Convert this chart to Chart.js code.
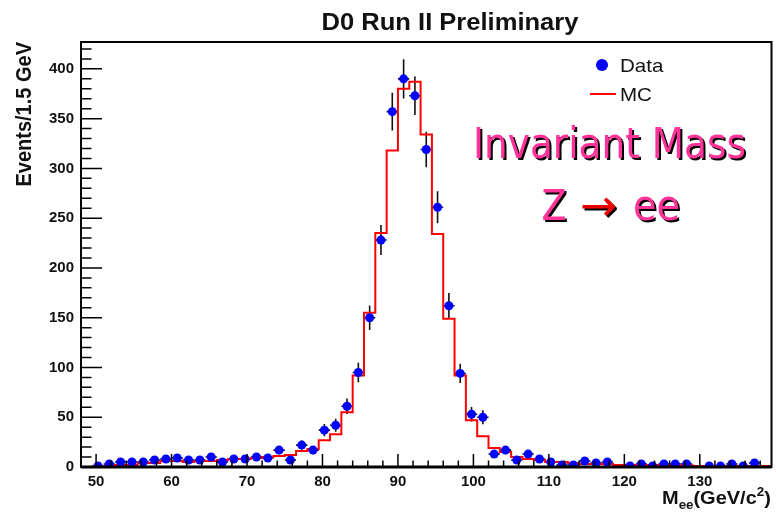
<!DOCTYPE html>
<html lang="en">
<head>
  <meta charset="UTF-8" />
  <title>D0 Run II Preliminary - Z to ee</title>
  <script src="https://cdn.jsdelivr.net/npm/chart.js"></script>
  <style>
    body { margin: 0; background: #fff; }
    canvas { display: block; }
  </style>
</head>
<body>
<canvas id="massChart" width="776" height="513"></canvas>
<script>
  // bin centres (GeV/c^2), 1.5 GeV bins from 48 to 139.5
  const massBins = [48.75, 50.25, 51.75, 53.25, 54.75, 56.25, 57.75, 59.25, 60.75, 62.25,
    63.75, 65.25, 66.75, 68.25, 69.75, 71.25, 72.75, 74.25, 75.75, 77.25,
    78.75, 80.25, 81.75, 83.25, 84.75, 86.25, 87.75, 89.25, 90.75, 92.25,
    93.75, 95.25, 96.75, 98.25, 99.75, 101.25, 102.75, 104.25, 105.75, 107.25,
    108.75, 110.25, 111.75, 113.25, 114.75, 116.25, 117.75, 119.25, 120.75, 122.25,
    123.75, 125.25, 126.75, 128.25, 129.75, 131.25, 132.75, 134.25, 135.75, 137.25, 138.75];

  // observed events per bin (null = empty bin)
  const dataCounts = [null, 1, 3, 5, 5, 5, 7, 8, 9, 7,
    7, 10, 5, 8, 8, 10, 9, 17, 7, 22,
    17, 37, 42, 61, 95, 150, 228, 357, 390, 373,
    319, 261, 162, 94, 53, 50, 13, 17, 7, 13,
    8, 5, 2, 2, 6, 4, 5, null, 1, 3,
    1, 3, 3, 3, null, 1, 1, 3, 1, 4, null];

  // Monte Carlo expectation per bin
  const mcCounts = [0, 0.5, 1, 2, 2, 4, 4, 6, 6, 5,
    6, 6, 7, 8, 8, 9, 10, 11, 12, 16,
    18, 27, 33, 55, 92, 155, 235, 318, 380, 387,
    334, 234, 149, 92, 47, 31, 19, 15, 10, 8,
    7, 5, 5, 4, 3, 3, 3, 2, 2, 2,
    2, 2, 2, 2, 1, 1, 1, 1, 1, 1, 1];

  const binWidth = 1.5;
  const xRange = [48, 139.5];
  const yRange = [0, 427];

  const chartTitle = "D0 Run II Preliminary";
  const yTitle = "Events/1.5 GeV";
  const legendLabels = ["Data", "MC"];
  const noteLines = ["Invariant Mass", "Z", "\u2192", "ee"];

  const pink = "#ff3399";
  const sx = 1.11; // text is a little wide in this layout

  const dataPoints = massBins.map((m, i) => ({ x: m, y: dataCounts[i] }));
  const mcSteps = massBins.map((m, i) => ({ x: m - binWidth / 2, y: mcCounts[i] }));
  mcSteps.push({ x: massBins[massBins.length - 1] + binWidth / 2, y: mcCounts[mcCounts.length - 1] });

  function wideText(ctx, text, x, y, font, color, align) {
    ctx.save();
    ctx.font = font;
    ctx.fillStyle = color;
    ctx.textAlign = align || "left";
    ctx.textBaseline = "alphabetic";
    ctx.translate(x, y);
    ctx.scale(sx, 1);
    ctx.fillText(text, 0, 0);
    ctx.restore();
  }

  // text squeezed/stretched to a given width, with a dark drop shadow
  function shadowText(ctx, text, cx, y, size, width, color) {
    ctx.save();
    ctx.font = size + "px 'DejaVu Sans'";
    const w = ctx.measureText(text).width;
    const k = width / w;
    ctx.translate(cx, y);
    ctx.scale(k, 1);
    ctx.textAlign = "center";
    ctx.fillStyle = "#000";
    ctx.fillText(text, 2 / k, 2);
    ctx.fillStyle = color;
    ctx.fillText(text, 0, 0);
    ctx.restore();
  }

  const rootStyle = {
    id: "rootStyle",
    beforeDatasetsDraw(chart) {
      // error bars under the markers
      const { ctx, scales: { x, y } } = chart;
      ctx.save();
      ctx.strokeStyle = "#111";
      ctx.lineWidth = 1.6;
      dataPoints.forEach(p => {
        if (p.y == null) return;
        const err = Math.sqrt(p.y);
        const px = x.getPixelForValue(p.x);
        const py = y.getPixelForValue(p.y);
        ctx.beginPath();
        ctx.moveTo(px, y.getPixelForValue(p.y + err));
        ctx.lineTo(px, Math.min(y.getPixelForValue(Math.max(p.y - err, 0)), y.bottom));
        ctx.moveTo(x.getPixelForValue(p.x - binWidth / 2), py);
        ctx.lineTo(x.getPixelForValue(p.x + binWidth / 2), py);
        ctx.stroke();
      });
      ctx.restore();
    },
    afterDraw(chart) {
      const { ctx, chartArea: a, scales: { x, y } } = chart;
      ctx.save();

      // frame
      ctx.strokeStyle = "#000";
      ctx.lineWidth = 2;
      ctx.strokeRect(a.left, a.top, a.right - a.left, a.bottom - a.top);
      ctx.lineWidth = 3;
      ctx.beginPath();
      ctx.moveTo(a.left, a.bottom);
      ctx.lineTo(a.right, a.bottom);
      ctx.stroke();

      // inward ticks
      ctx.lineWidth = 1.5;
      ctx.beginPath();
      for (let v = 48; v <= xRange[1]; v += 2) {
        const px = x.getPixelForValue(v);
        const len = v % 10 === 0 ? 13 : 6.5;
        ctx.moveTo(px, a.bottom);
        ctx.lineTo(px, a.bottom - len);
      }
      for (let v = 0; v <= yRange[1]; v += 10) {
        const py = y.getPixelForValue(v);
        const len = v % 50 === 0 ? 21 : 10.5;
        ctx.moveTo(a.left, py);
        ctx.lineTo(a.left + len, py);
      }
      ctx.stroke();

      // title
      wideText(ctx, chartTitle, 450, 29.5, "bold 23px 'Liberation Sans'", "#111", "center");

      // y axis title
      ctx.save();
      ctx.translate(31, a.top);
      ctx.scale(sx, 1);
      ctx.rotate(-Math.PI / 2);
      ctx.font = "bold 20px 'Liberation Sans'";
      ctx.fillStyle = "#111";
      ctx.textAlign = "right";
      ctx.fillText(yTitle, 0, 0);
      ctx.restore();

      // x axis title M_ee(GeV/c^2)
      let cx = 662;
      const base = 504;
      const big = "bold 18px 'Liberation Sans'";
      const small = "bold 12px 'Liberation Sans'";
      const parts = [["M", big, 0], ["ee", small, 5], ["(GeV/c", big, 0], ["2", small, -8], [")", big, 0]];
      parts.forEach(([t, f, dy]) => {
        ctx.font = f;
        wideText(ctx, t, cx, base + dy, f, "#111", "left");
        cx += ctx.measureText(t).width * sx;
      });

      // legend
      ctx.fillStyle = "#0000ff";
      ctx.beginPath();
      ctx.arc(602, 65, 6, 0, Math.PI * 2);
      ctx.fill();
      wideText(ctx, legendLabels[0], 620, 71.5, "18.5px 'Liberation Sans'", "#111", "left");
      ctx.strokeStyle = "#ff0000";
      ctx.lineWidth = 2;
      ctx.beginPath();
      ctx.moveTo(590, 94);
      ctx.lineTo(616, 94);
      ctx.stroke();
      wideText(ctx, legendLabels[1], 620, 100.5, "18.5px 'Liberation Sans'", "#111", "left");

      // annotation
      shadowText(ctx, noteLines[0], 609.5, 158, 43, 273, pink);
      shadowText(ctx, noteLines[1], 554, 220, 43, 25, pink);
      shadowText(ctx, noteLines[2], 598.5, 220, 43, 37, "#ee0000");
      shadowText(ctx, noteLines[3], 656.5, 220, 43, 47, pink);

      ctx.restore();
    }
  };

  new Chart(document.getElementById("massChart"), {
    type: "scatter",
    data: {
      datasets: [
        {
          label: legendLabels[0],
          data: dataPoints,
          backgroundColor: "#0000ff",
          borderWidth: 0,
          pointRadius: 4.5,
          pointHoverRadius: 4.5,
          order: 0
        },
        {
          type: "line",
          label: legendLabels[1],
          data: mcSteps,
          stepped: "before",
          borderColor: "#ff0000",
          borderWidth: 2,
          pointRadius: 0,
          fill: false,
          order: 1
        }
      ]
    },
    plugins: [rootStyle],
    options: {
      responsive: false,
      animation: false,
      layout: { padding: { top: 42, right: 2, left: 0, bottom: 0 } },
      plugins: {
        legend: { display: false },
        title: { display: false },
        tooltip: { enabled: false }
      },
      scales: {
        x: {
          type: "linear",
          min: xRange[0],
          max: xRange[1],
          afterFit(scale) { scale.height = 46; },
          grid: { display: false, drawTicks: false },
          border: { display: false },
          ticks: {
            stepSize: 10,
            includeBounds: false,
            padding: 6,
            color: "#111",
            font: { family: "Liberation Sans", size: 15, weight: "bold" },
            maxRotation: 0
          }
        },
        y: {
          min: yRange[0],
          max: yRange[1],
          afterFit(scale) { scale.width = 81; },
          grid: { display: false, drawTicks: false },
          border: { display: false },
          ticks: {
            stepSize: 50,
            includeBounds: false,
            padding: 7,
            color: "#111",
            font: { family: "Liberation Sans", size: 15, weight: "bold" }
          }
        }
      }
    }
  });
</script>
</body>
</html>
